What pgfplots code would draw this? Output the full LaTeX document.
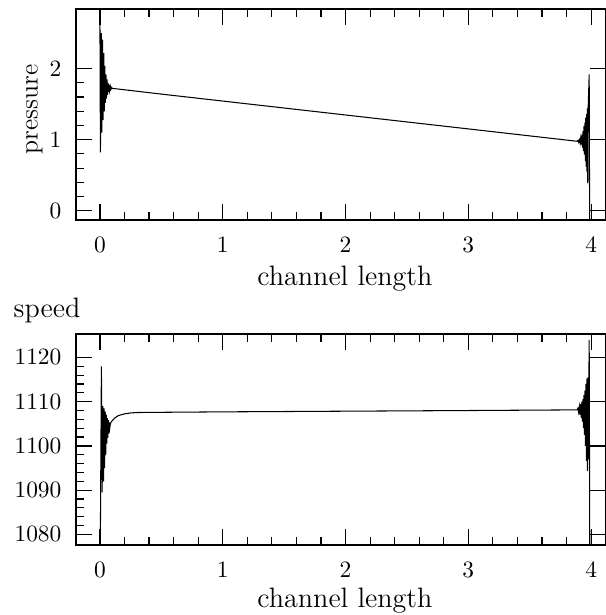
\documentclass[border=0pt]{standalone}
\usepackage{fontspec}
\usepackage{pgfplots}
\pgfplotsset{compat=1.18}

\newcommand\lbl{\fontsize{12}{14}\selectfont}
\newcommand\lblp{\fontsize{11}{13}\selectfont}

\pgfplotsset{
  myax/.style={
    width=226.3pt, height=90.1pt, scale only axis,
    xmin=-0.195, xmax=4.12,
    xtick={0,1,2,3,4}, minor x tick num=4,
    tick align=inside,
    major tick length=6.8pt, minor tick length=3.4pt,
    every tick/.append style={black, line width=0.5pt},
    axis line style={line width=0.6pt},
    ytick pos=left,
    xticklabel style={yshift=-3.9pt},
    yticklabel style={xshift=-2.7pt},
    /pgf/number format/set thousands separator={},
    clip mode=individual,
  },
  rightax/.style={
    width=226.3pt, height=90.1pt, scale only axis,
    xmin=-0.195, xmax=4.12,
    axis x line=none, axis y line*=right,
    yticklabels={}, minor y tick num=0,
    tick align=inside, major tick length=6.8pt,
    every tick/.append style={black, line width=0.5pt},
    axis line style={line width=0.6pt},
  },
}

\begin{document}
\begin{tikzpicture}
\useasboundingbox (-32.45pt,3.84pt) rectangle (226.3pt,-258.8pt);

% ---------------- pressure ----------------
\begin{axis}[myax, at={(0pt,0pt)}, anchor=north west,
  ymin=-0.13, ymax=2.84, ytick={0,1,2}, minor y tick num=4]
\addplot[black, line width=0.45pt] coordinates {
(0.000,2.72) (0.004,0.82) (0.012,2.50) (0.016,1.10) (0.021,2.41) (0.025,1.28)
(0.031,2.22) (0.035,1.40) (0.040,2.04) (0.044,1.52) (0.049,1.92) (0.053,1.58)
(0.058,1.85) (0.062,1.63) (0.067,1.80) (0.071,1.67) (0.076,1.77) (0.080,1.69)
(0.085,1.75) (0.090,1.71) (0.096,1.735) (0.102,1.72)
(0.115,1.72) (0.5,1.642) (1,1.544) (2,1.348) (3,1.152) (3.885,0.978)
(3.892,0.99) (3.898,0.965) (3.904,1.00) (3.910,0.95) (3.915,1.02) (3.920,0.93)
(3.925,1.07) (3.929,0.89) (3.934,1.12) (3.938,0.84) (3.942,1.19) (3.946,0.79)
(3.950,1.24) (3.953,0.70) (3.956,1.31) (3.959,0.62) (3.963,1.36) (3.966,0.55)
(3.969,1.44) (3.972,0.39) (3.975,1.40) (3.984,1.92) (3.988,-0.35)
};
\node[rotate=90, anchor=base, inner sep=0pt] at ([xshift=-16.4pt,yshift=2.3pt]rel axis cs:0,0.5)
  {\lblp pressure};
\node[anchor=base, inner sep=0pt] at ([xshift=1.7pt,yshift=-27.8pt]rel axis cs:0.5,0)
  {\lbl channel length};
\end{axis}
\begin{axis}[rightax, at={(0pt,0pt)}, anchor=north west,
  ymin=-0.13, ymax=2.84, ytick={0,1,2}]
\end{axis}

% ---------------- speed ----------------
\begin{axis}[myax, at={(0pt,-138.8pt)}, anchor=north west,
  ymin=1077.6, ymax=1125.3, ytick={1080,1090,1100,1110,1120}, minor y tick num=4]
\addplot[black, line width=0.45pt] coordinates {
(0.000,1078.5) (0.004,1081) (0.012,1118) (0.018,1089.5) (0.024,1109) (0.029,1092)
(0.034,1108.5) (0.038,1095) (0.043,1107.8) (0.047,1098) (0.052,1107) (0.056,1100.5)
(0.060,1106.3) (0.064,1101.8) (0.068,1105.8) (0.072,1102.8) (0.076,1105.3)
(0.080,1104) (0.085,1105) (0.09,1105.3) (0.10,1105.7) (0.12,1106.3) (0.15,1106.85)
(0.2,1107.25) (0.25,1107.45) (0.3,1107.55) (0.5,1107.6) (1,1107.7) (2,1107.85)
(3,1108.0) (3.885,1108.15)
(3.892,1108.5) (3.898,1107.6) (3.904,1108.9) (3.910,1107.0) (3.915,1109.5)
(3.920,1106.3) (3.925,1110.0) (3.929,1105.5) (3.934,1110.6) (3.938,1104.0)
(3.942,1111.5) (3.946,1102.5) (3.950,1112.5) (3.954,1100) (3.958,1114)
(3.962,1096.6) (3.966,1115.2) (3.970,1094.3) (3.974,1115.5) (3.977,1097)
(3.984,1124) (3.990,1065)
};
\node[anchor=base west, inner sep=0pt] at ([xshift=-26.8pt,yshift=7pt]rel axis cs:0,1)
  {\lbl speed};
\node[anchor=base, inner sep=0pt] at ([xshift=1.7pt,yshift=-26.5pt]rel axis cs:0.5,0)
  {\lbl channel length};
\end{axis}
\begin{axis}[rightax, at={(0pt,-138.8pt)}, anchor=north west,
  ymin=1077.6, ymax=1125.3, ytick={1080,1090,1100,1110,1120}]
\end{axis}
\end{tikzpicture}
\end{document}
